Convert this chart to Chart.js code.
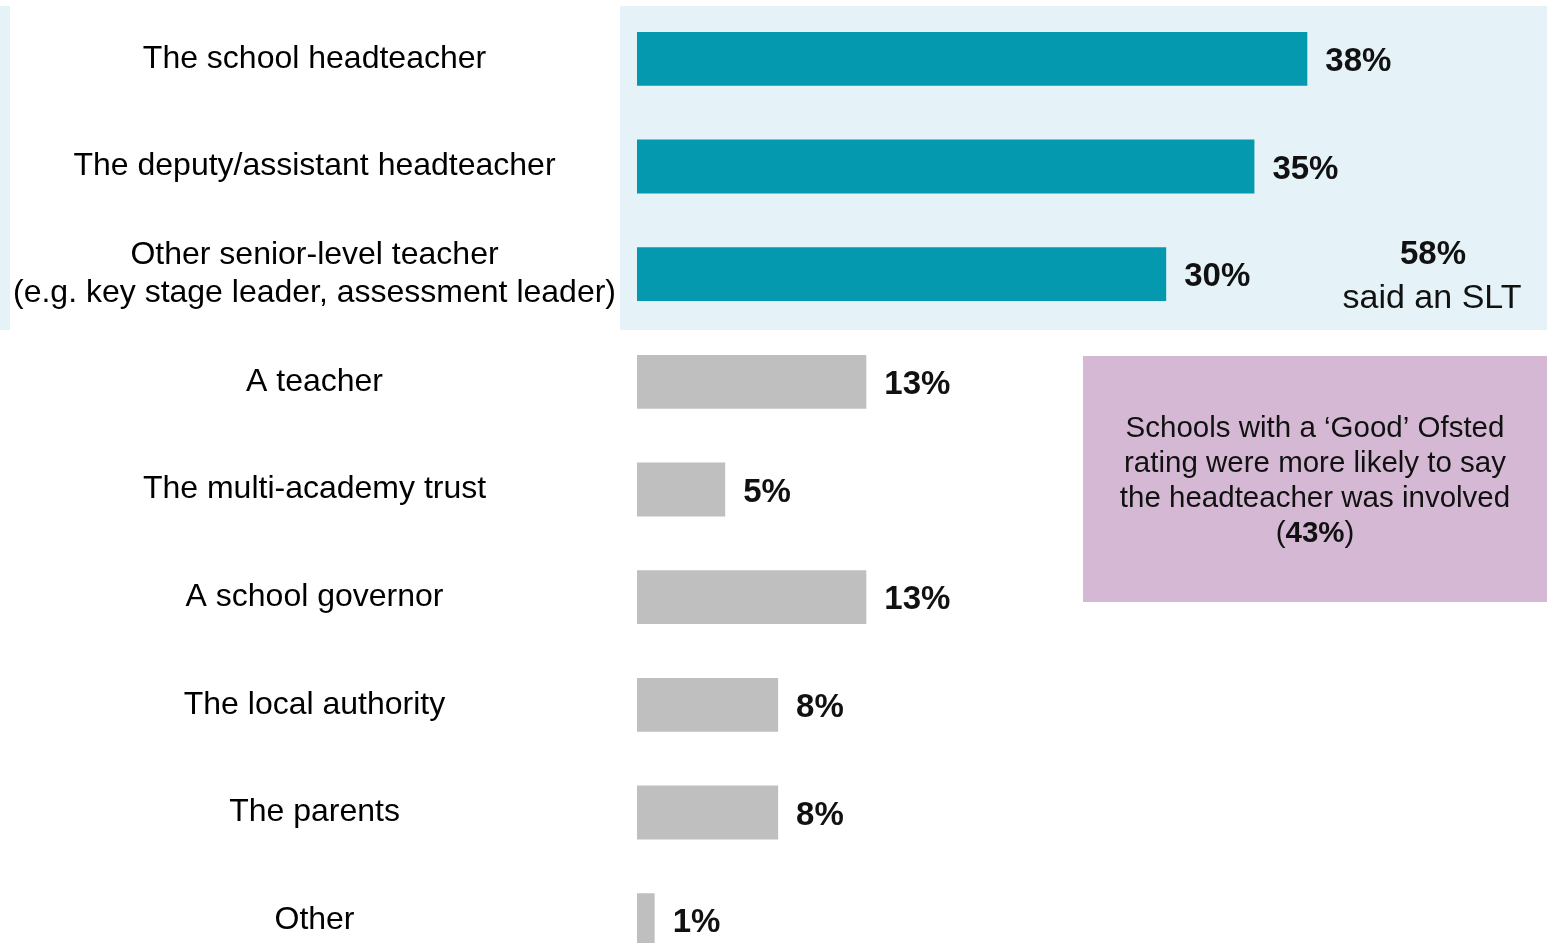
<!DOCTYPE html>
<html>
<head>
<meta charset="utf-8">
<script src="https://cdn.jsdelivr.net/npm/chart.js"></script>
<style>
  html, body { margin: 0; padding: 0; background: #fff; overflow: hidden; }
  #wrap { width: 1547px; height: 974px; position: relative; }
</style>
</head>
<body>
<div id="wrap"><canvas id="myChart"></canvas></div>
<script>
const categories = [
    "The school headteacher",
    "The deputy/assistant headteacher",
    ["Other senior-level teacher", "(e.g. key stage leader, assessment leader)"],
    "A teacher",
    "The multi-academy trust",
    "A school governor",
    "The local authority",
    "The parents",
    "Other"
];
const percentValues = [38, 35, 30, 13, 5, 13, 8, 8, 1];
const valueLabels = ["38%", "35%", "30%", "13%", "5%", "13%", "8%", "8%", "1%"];
const sltCount = 3; // first three rows are senior leadership
const sltTotal = "58%";
const sltText = "said an SLT";
const noteLines = ["Schools with a \u2018Good\u2019 Ofsted", "rating were more likely to say", "the headteacher was involved"];
const noteValue = "43%";

const FONT = "'Liberation Sans', Arial, sans-serif";
const teal = "#0499af";
const grey = "#bfbfbf";

const barColors = percentValues.map((v, i) => i < sltCount ? teal : grey);

const extras = {
    id: "extras",
    beforeDraw(chart) {
        const ctx = chart.ctx;
        const y = chart.scales.y;
        const step = y.getPixelForValue(1) - y.getPixelForValue(0);
        const top = y.getPixelForValue(0) - step / 2 + 1;
        const bottom = y.getPixelForValue(sltCount - 1) + step / 2 + 2;
        ctx.save();
        ctx.fillStyle = "#e5f2f7";
        ctx.fillRect(620, top, chart.width - 620, bottom - top);
        ctx.fillRect(0, top, 10, bottom - top);
        ctx.restore();
    },
    afterDatasetsDraw(chart) {
        const ctx = chart.ctx;
        const meta = chart.getDatasetMeta(0);
        ctx.save();
        ctx.fillStyle = "#111";
        ctx.textBaseline = "middle";
        ctx.textAlign = "left";
        ctx.font = "bold 33px " + FONT;
        meta.data.forEach((bar, i) => {
            ctx.fillText(valueLabels[i], bar.x + 18, bar.y + 3);
        });

        // SLT total
        ctx.textAlign = "center";
        ctx.fillText(sltTotal, 1433, 255);
        ctx.font = "34px " + FONT;
        ctx.fillText(sltText, 1432, 299);

        // note box
        ctx.fillStyle = "#d5b9d4";
        ctx.fillRect(1083, 356, 1547 - 1083, 602 - 356);
        ctx.fillStyle = "#111";
        ctx.font = "29.5px " + FONT;
        noteLines.forEach((line, i) => ctx.fillText(line, 1315, 429 + i * 35));
        ctx.textAlign = "left";
        const wOpen = ctx.measureText("(").width;
        const wClose = ctx.measureText(")").width;
        ctx.font = "bold 29.5px " + FONT;
        const wVal = ctx.measureText(noteValue).width;
        let x = 1315 - (wOpen + wVal + wClose) / 2;
        const ly = 429 + 3 * 35;
        ctx.font = "29.5px " + FONT;
        ctx.fillText("(", x, ly);
        x += wOpen;
        ctx.font = "bold 29.5px " + FONT;
        ctx.fillText(noteValue, x, ly);
        x += wVal;
        ctx.font = "29.5px " + FONT;
        ctx.fillText(")", x, ly);
        ctx.restore();
    }
};

const myChart = new Chart(document.getElementById("myChart"), {
    type: "bar",
    data: {
        labels: categories,
        datasets: [{
            data: percentValues,
            backgroundColor: barColors,
            borderWidth: 0,
            categoryPercentage: 1,
            barPercentage: 0.5
        }]
    },
    options: {
        indexAxis: "y",
        responsive: true,
        maintainAspectRatio: false,
        animation: false,
        layout: { padding: { top: 5, right: 28, bottom: 0, left: 0 } },
        plugins: {
            legend: { display: false },
            tooltip: { enabled: false }
        },
        scales: {
            x: { display: false, min: 0, max: 50 },
            y: {
                grid: { display: false, drawTicks: false },
                border: { display: false },
                ticks: {
                    autoSkip: false,
                    crossAlign: "center",
                    padding: 21,
                    color: "#000",
                    font: { family: FONT, size: 32, lineHeight: 1.17 }
                },
                afterFit(scale) {
                    scale.width = 637;
                    scale.paddingTop = 0;
                    scale.paddingBottom = 0;
                }
            }
        }
    },
    plugins: [extras]
});
</script>
</body>
</html>
